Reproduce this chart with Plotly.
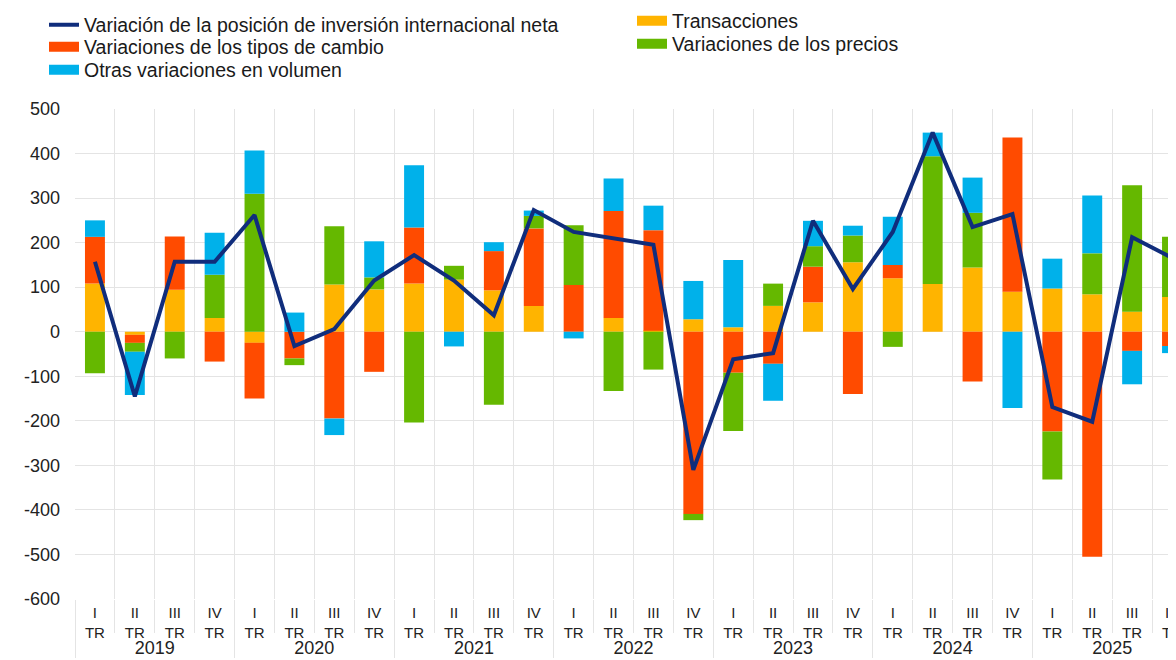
import plotly.graph_objects as go

year_names = ["2019", "2020", "2021", "2022", "2023", "2024", "2025"]
quarter_names = ["I<br>TR", "II<br>TR", "III<br>TR", "IV<br>TR"]
years = [f"<span style='font-size:18px'>{y}</span>" for y in year_names for _ in quarter_names]
quarters = quarter_names * len(year_names)

transacciones = [108, -7, 94, 31, -25, 0, 106, 95, 108, 117, 93, 58, 0, 31, 2, 28,
                 10, 58, 66, 156, 120, 107, 144, 90, 97, 84, 45, 78]
tipos_cambio = [105, -18, 120, -67, -125, -60, -195, -90, 126, 0, 88, 174, 105, 240, 226, -409,
                -92, -72, 80, -140, 30, 0, -112, 346, -224, -505, -43, -32]
precios = [-93, -20, -60, 97, 310, -15, 131, 27, -204, 31, -164, 28, 134, -133, -85, -14,
           -131, 50, 46, 60, -34, 287, 123, 0, -108, 92, 284, 135]
otras_vol = [37, -97, 0, 94, 97, 43, -37, 81, 140, -33, 20, 12, -15, 73, 55, 86,
             151, -83, 57, 22, 108, 53, 79, -171, 67, 130, -75, -16]
pii_neta = [157, -145, 157, 157, 262, -32, 6, 115, 172, 115, 37, 273, 224, 210, 195, -310,
            -62, -48, 249, 96, 224, 447, 235, 264, -169, -202, 212, 166]

y_tickvals = [500, 400, 300, 200, 100, 0, -100, -200, -300, -400, -500, -600]
y_ticktext = ["500", "400", "300", "200", "100", "0", "-100", "-200", "-300", "-400", "-500", "-600"]

names = {
    "line": "Variación de la posición de inversión internacional neta",
    "fx": "Variaciones de los tipos de cambio",
    "other": "Otras variaciones en volumen",
    "trans": "Transacciones",
    "prices": "Variaciones de los precios",
}
colors = {
    "line": "#102d7c",
    "fx": "#ff4b00",
    "other": "#00b1ea",
    "trans": "#ffb400",
    "prices": "#65b800",
}

W, H = 1168, 652

x = [years, quarters]
fig = go.Figure()

# stacked bars (stacking order: transactions, exchange rates, prices, other volume)
bar_series = [("trans", transacciones), ("fx", tipos_cambio), ("prices", precios), ("other", otras_vol)]
for key, vals in bar_series:
    fig.add_trace(go.Bar(x=x, y=vals, name=names[key], marker_color=colors[key],
                         marker_line_width=0, showlegend=False))

fig.add_trace(go.Scatter(x=x, y=pii_neta, name=names["line"], mode="lines",
                         line=dict(color=colors["line"], width=4), legend="legend"))

# legend entries for the bar series drawn as wide colour swatches
legend_ids = {"fx": "legend2", "other": "legend3", "trans": "legend4", "prices": "legend5"}
for key, _ in bar_series:
    fig.add_trace(go.Scatter(x=[[years[0]], [quarters[0]]], y=[None], name=names[key],
                             mode="lines", line=dict(color=colors[key], width=10),
                             legend=legend_ids[key], hoverinfo="skip"))

legend_font = dict(family="Liberation Sans, Arial, sans-serif", size=19.5, color="#1a1a1a")


def leg(xpx, ypx):
    return dict(xref="container", yref="container", x=xpx / W, y=1 - ypx / H,
                xanchor="left", yanchor="middle", bgcolor="rgba(0,0,0,0)",
                font=legend_font, borderwidth=0)


fig.update_layout(
    width=W, height=H,
    margin=dict(l=67, r=0, t=101, b=61, autoexpand=False),
    paper_bgcolor="white", plot_bgcolor="white",
    barmode="relative", bargap=0.5,
    showlegend=True,
    legend=leg(36, 17),
    legend2=leg(36, 39),
    legend3=leg(36, 62),
    legend4=leg(624, 13),
    legend5=leg(624, 36),
    font=dict(family="Liberation Sans, Arial, sans-serif", color="#222222"),
    xaxis=dict(
        type="multicategory", range=[-0.5, 27.1], automargin=False,
        showgrid=True, gridcolor="#e4e4e4", gridwidth=1,
        tickson="boundaries", ticks="outside", ticklen=33, tickcolor="#e4e4e4",
        showdividers=True, dividercolor="#e4e4e4", dividerwidth=1,
        tickfont=dict(size=15, color="#222222"), tickangle=0,
        ticklabelstandoff=3,
        showline=False, zeroline=False,
    ),
    yaxis=dict(
        range=[-600, 500], tickmode="array", tickvals=y_tickvals, ticktext=y_ticktext,
        automargin=False,
        showgrid=True, gridcolor="#e4e4e4", gridwidth=1,
        zeroline=False, showline=False,
        tickfont=dict(size=18, color="#222222"),
        ticklabelstandoff=14,
    ),
)

fig.write_html("out.html")
